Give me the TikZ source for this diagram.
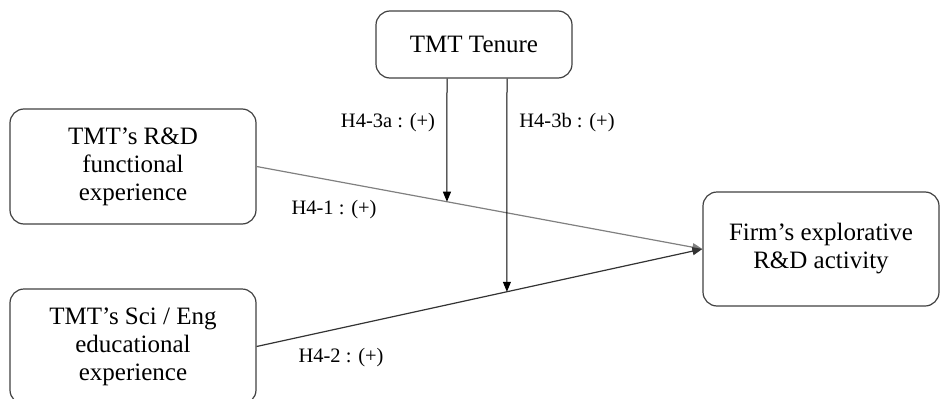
\documentclass[tikz,border=0pt]{standalone}
\usepackage{fontspec}
\setmainfont{Liberation Serif}
\usetikzlibrary{arrows.meta}
\begin{document}
\begin{tikzpicture}[x=1pt,y=-1pt,
  box/.style={draw=black!75,line width=1.2pt,rounded corners=14pt,align=center,
    font=\fontsize{25}{28}\selectfont,inner sep=0pt},
  lab/.style={font=\fontsize{20.5}{24}\selectfont,inner sep=0pt},
  tip/.style={-{Triangle[length=10pt,width=8pt]}},
  mainline/.style={line width=1.2pt,tip},
  modline/.style={line width=1pt,black,tip}]
\useasboundingbox (0,0) rectangle (940,399);
\node[box,minimum width=196pt,minimum height=67pt] (tenure) at (474,44.5) {TMT Tenure};
\node[box,minimum width=246pt,minimum height=115pt] (rd) at (133,166.5) {TMT’s R\&D\\functional\\experience};
\node[box,minimum width=246pt,minimum height=115pt] (sci) at (133,346.5) {TMT’s Sci / Eng\\educational\\experience};
\node[box,minimum width=236pt,minimum height=114pt] (firm) at (821,249) {Firm’s explorative\\R\&D activity};
\draw[mainline,draw=black!50] (rd.east) -- (firm.west)
  coordinate[pos=0.427] (pa);
\draw[mainline,draw=black!80] (sci.east) -- (firm.west)
  coordinate[pos=0.5615] (pb);
\coordinate (ta) at (447,78);
\coordinate (tb) at (507,78);
\draw[modline] (tenure.south -| ta) -- (pa);
\draw[modline] (tenure.south -| tb) -- (pb);
\node[lab] (la) at (388,123) {H4-3a : (+)};
\node[lab] (lb) at (567,123) {H4-3b : (+)};
\node[lab] (l1) at (334,210) {H4-1 : (+)};
\node[lab] (l2) at (341,358) {H4-2 : (+)};
\end{tikzpicture}
\end{document}
